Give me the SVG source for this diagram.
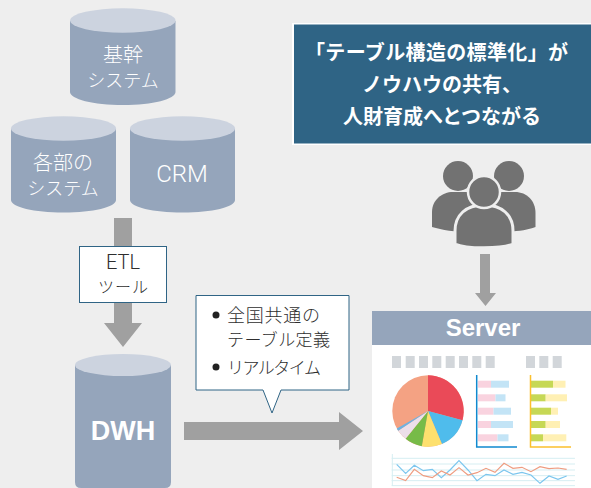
<svg xmlns="http://www.w3.org/2000/svg" width="591" height="488" viewBox="0 0 591 488">
<style>
.jp{font-family:"Noto Sans CJK JP","Noto Sans",sans-serif;font-weight:300}
.lat{font-family:"Liberation Sans",Arial,sans-serif}
.lt{font-family:Roboto,"Liberation Sans",sans-serif;font-weight:300}
.b{fill:#95a5bb}.t{fill:#ccd3df}
.w{fill:#ffffff;text-anchor:middle}
.k{fill:#2e2e2e}
.ar{fill:#a0a0a0}
.sq{fill:#d2d6da}
.gl{stroke:#d6eef2;fill:none}
.pk{fill:#f9d3df}.bl{fill:#c3e4f6}.gr{fill:#c6d855}.ye{fill:#fff0b4}
</style>
<rect width="591" height="488" fill="#eeeeee"/>
<g id="connectors">
<path class="ar" d="M114 218H132V323H142L123 347L104 323H114Z"/>
<path class="ar" d="M184 422H339V412L363 431L339 450V440H184Z"/>
<path class="ar" d="M480 254H490V293H496L485.500 306L475 293H480Z"/>
</g>
<g id="kikan">
<path class="b" d="M70 21V92C70 99 93 105 123 105S175.500 99 175.500 92V21Z"/>
<ellipse class="t" cx="122.800" cy="20.500" rx="52.700" ry="12.300"/>
<text class="jp w" x="123" y="62" font-size="20">基幹</text>
<text class="jp w" x="123" y="87" font-size="18">システム</text>
</g>
<g id="kakubu">
<path class="b" d="M11 129V200C11 207 34 212.500 63.500 212.500S116 207 116 200V129Z"/>
<ellipse class="t" cx="63.500" cy="128.500" rx="52.500" ry="12.300"/>
<text class="jp w" x="63" y="170" font-size="20">各部の</text>
<text class="jp w" x="63" y="195" font-size="18">システム</text>
</g>
<g id="crm">
<path class="b" d="M130 129V200C130 207 153 212.500 182.500 212.500S235 207 235 200V129Z"/>
<ellipse class="t" cx="182.500" cy="128.500" rx="52.500" ry="12.300"/>
<text class="lt w" x="182" y="182" font-size="24">CRM</text>
</g>
<g id="etl">
<rect x="79.500" y="246.500" width="87" height="56" fill="#fff" stroke="#2f6485" stroke-width="1"/>
<text class="lt k" x="123" y="269" font-size="20" text-anchor="middle">ETL</text>
<text class="jp k" x="123" y="292.500" font-size="16" text-anchor="middle" textLength="50">ツール</text>
</g>
<g id="dwh">
<path class="b" d="M75 365V482Q75 488 81 488H165Q171 488 171 482V365Z"/>
<ellipse class="t" cx="123" cy="365" rx="48" ry="11"/>
<text class="lat" x="123" y="440" font-size="27" font-weight="700" fill="#fff" text-anchor="middle">DWH</text>
</g>
<g id="callout">
<path d="M196 295.500H349V390H281L272 413L263 390H196Z" fill="#fff" stroke="#2f6485" stroke-width="1"/>
<circle cx="216" cy="315" r="3.500" fill="#222"/>
<circle cx="216" cy="367" r="3.500" fill="#222"/>
<text class="jp k" x="227" y="322" font-size="18" textLength="93">全国共通の</text>
<text class="jp k" x="227" y="346" font-size="17" textLength="103">テーブル定義</text>
<text class="jp k" x="227" y="374" font-size="17" textLength="94">リアルタイム</text>
</g>
<g id="headline">
<rect x="292" y="23" width="299" height="122" fill="#fff"/>
<rect x="294" y="24.500" width="297" height="119" fill="#2f6485"/>
<g font-size="20" fill="#fff" text-anchor="middle" font-family="'Noto Sans CJK JP',sans-serif" font-weight="700">
<text x="436.500" y="60" textLength="263">「テーブル構造の標準化」が</text>
<text x="442" y="92">ノウハウの共有、</text>
<text x="442" y="124">人財育成へとつながる</text>
</g>
</g>
<g id="people" fill="#727272">
<circle cx="458" cy="176" r="15"/>
<circle cx="509" cy="176" r="15"/>
<path d="M432 227V212C432 200 442 192 453 192H515C527 192 535.500 201 535.500 213V227C525 231 512 232 490 232H470C455 232 442 230 432 227Z"/>
<path d="M484 204C466 204 455 214 455 230V243C466 248 502 248 513 243V230C513 214 502 204 484 204Z" stroke="#eeeeee" stroke-width="3" transform="translate(0 1)"/>
<circle cx="484" cy="192" r="16" stroke="#eeeeee" stroke-width="2.500"/>
</g>
<g id="server">
<rect x="372" y="345" width="219" height="143" fill="#fff"/>
<rect x="372" y="311" width="219" height="34" fill="#95a5bb"/>
<text class="lat" x="483" y="336" font-size="24" font-weight="700" fill="#fff" text-anchor="middle">Server</text>
<g>
<rect class="sq" x="392" y="356" width="9" height="12"/><rect class="sq" x="405.700" y="356" width="9" height="12"/><rect class="sq" x="419" y="356" width="9" height="12"/><rect class="sq" x="432.300" y="356" width="9" height="12"/><rect class="sq" x="445.700" y="356" width="9" height="12"/><rect class="sq" x="459" y="356" width="9" height="12"/><rect class="sq" x="472.300" y="356" width="9" height="12"/><rect class="sq" x="485.700" y="356" width="9" height="12"/>
<rect class="sq" x="526" y="356" width="9" height="12"/><rect class="sq" x="539.300" y="356" width="9" height="12"/><rect class="sq" x="552.700" y="356" width="9" height="12"/>
</g>
<g transform="translate(428 411)">
<circle r="35.700" fill="#f4a283"/>
<path d="M0 0V-35.700A35.700 35.700 0 0 1 34.500 9.200Z" fill="#ea4a58"/>
<path d="M0 0L34.500 9.200A35.700 35.700 0 0 1 13.900 32.900Z" fill="#4fbcec"/>
<path d="M0 0L13.900 32.900A35.700 35.700 0 0 1 -6.200 35.200Z" fill="#fde06e"/>
<path d="M0 0L-6.200 35.200A35.700 35.700 0 0 1 -22.400 27.800Z" fill="#77bb48"/>
<path d="M0 0L-22.400 27.800A35.700 35.700 0 0 1 -29.800 19.700Z" fill="#ecdfea"/>
<path d="M0 0L-29.800 19.700A35.700 35.700 0 0 1 -31.200 17.400Z" fill="#6db2e2"/>
</g>
<g>
<rect class="pk" x="478" y="380.700" width="13" height="7"/><rect class="bl" x="491" y="380.700" width="18" height="7"/>
<rect class="pk" x="478" y="394.300" width="17.500" height="7"/><rect class="bl" x="495.500" y="394.300" width="10" height="7"/>
<rect class="pk" x="478" y="407.700" width="15.500" height="7"/><rect class="bl" x="493.500" y="407.700" width="17.500" height="7"/>
<rect class="pk" x="478" y="421" width="13" height="7"/><rect class="bl" x="491" y="421" width="22" height="7"/>
<rect class="pk" x="478" y="434.300" width="19.500" height="7"/><rect class="bl" x="497.500" y="434.300" width="11" height="7"/>
<path d="M476.700 375V447H517" fill="none" stroke="#1189cf" stroke-width="1.500"/>
<rect class="gr" x="531" y="380.700" width="22" height="7"/><rect class="ye" x="553" y="380.700" width="12.500" height="7"/>
<rect class="gr" x="531" y="394.300" width="14.700" height="7"/><rect class="ye" x="545.700" y="394.300" width="21.300" height="7"/>
<rect class="gr" x="531" y="407.700" width="20" height="7"/><rect class="ye" x="551" y="407.700" width="7" height="7"/>
<rect class="gr" x="531" y="421" width="14.700" height="7"/><rect class="ye" x="545.700" y="421" width="14.300" height="7"/>
<rect class="gr" x="531" y="434.300" width="12" height="7"/><rect class="ye" x="543" y="434.300" width="23.300" height="7"/>
<path d="M530.500 375V447H571" fill="none" stroke="#fbc02d" stroke-width="1.500"/>
</g>
<g transform="translate(370 340) scale(.3333)">
<path class="gl" stroke-width="3" d="M67 342V438M65 355H615M65 372H615M65 390H615M65 407H615M65 422H615M65 437H615"/>
<polyline fill="none" stroke="#7cc6ee" stroke-width="3.500" points="80,373 107,400 133,376 160,392 187,388 214,413 240,390 267,362 294,390 321,422 348,403 375,407 402,390 429,403 456,397 483,405 510,430 537,408 564,418 590,408"/>
<polyline fill="none" stroke="#ef9c80" stroke-width="3.500" points="80,412 107,422 133,388 160,407 187,413 214,393 240,405 267,383 294,405 321,398 348,385 375,397 402,370 429,385 456,382 483,395 510,380 537,386 564,384 590,388"/>
</g>
</g>
</svg>
